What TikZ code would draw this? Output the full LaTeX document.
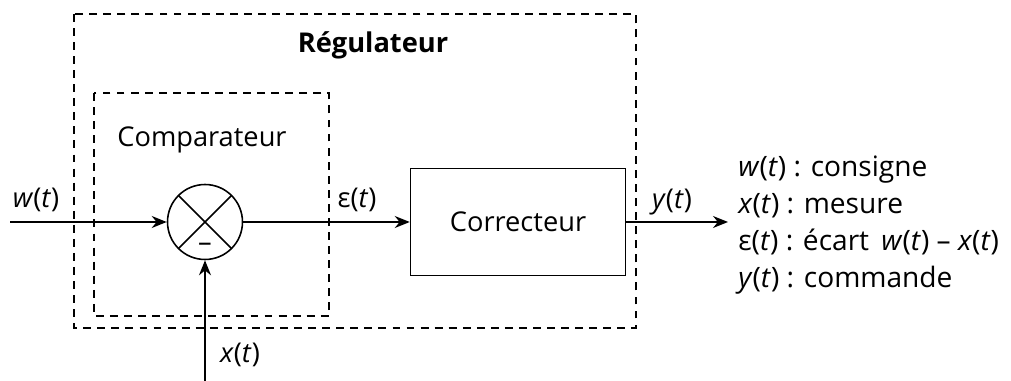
\documentclass[tikz,border=0pt]{standalone}
\usepackage{fontspec}
\setmainfont{Open Sans}
\usepackage{tikz}
\usetikzlibrary{arrows.meta,positioning}
% signal temporel : lettre et t en italique
\newcommand{\sig}[1]{\textit{#1}(\textit{t})}
\newcommand{\schemafont}{\fontsize{15.5}{21.3}\selectfont}
\tikzset{
  % --- Boucle de régulation -------------------------------------------------
  sumnode/.style={
    circle, draw, line width=0.9pt, minimum size=1.5cm, inner sep=0pt,
    path picture={
      \draw[line width=0.9pt]
        (path picture bounding box.north west) -- (path picture bounding box.south east)
        (path picture bounding box.south west) -- (path picture bounding box.north east);
    }
  },
  blockbox/.style={
    rectangle, draw, line width=0.9pt, minimum width=4.3cm, minimum height=2.14cm
  },
  dashzone/.style={draw, line width=0.9pt, dash pattern=on 4.5pt off 3.5pt},
  siglabel/.style={inner sep=1pt},
  sigarrow/.style={-{Stealth[length=3mm, width=2.4mm]}, line width=0.9pt},
  legline/.style={anchor=base west, inner sep=0pt, font=\fontsize{16}{21.3}\selectfont},
}

\begin{document}
\begin{tikzpicture}[x=0.02cm, y=-0.02cm, every node/.style={font=\schemafont}]
    \useasboundingbox (0,0) rectangle (1011,381);

    % zones en pointillés
    \draw[dashzone] (74,14) rectangle (636,328);
    \draw[dashzone] (94,93) rectangle (329,316);
    \node[font=\schemafont\bfseries] (regtitle) at (373,45) {Régulateur};
    \node (comptitle) at (202,140) {Comparateur};

    \node[sumnode] (sum) at (205,222) {};
    \node at (205,247) (minus) {–};
    \node[blockbox, right=3.33cm of sum] (corr) {Correcteur};

    \coordinate (win) at (10,222);
    \coordinate (yout) at (728,222);
    \coordinate (xin) at (205,381);

    \draw[sigarrow] (win) -- (sum);
    \draw[sigarrow] (sum) -- (corr);
    \draw[sigarrow] (corr) -- (yout);
    \draw[sigarrow] (xin) -- (sum);

    \node[siglabel] (wlab) at (36,200) {\sig{w}};
    \node[siglabel] (elab) at (357,200) {ε(\textit{t})};
    \node[siglabel] (ylab) at (672,202) {\sig{y}};
    \node[siglabel] (xlab) at (240,355) {\sig{x}};

    % légende
    \node[legline] (leg1) at (738,177) {\sig{w} : consigne};
    \node[legline, below=0.74cm of leg1.base west, anchor=base west] (leg2) {\sig{x} : mesure};
    \node[legline, below=0.74cm of leg2.base west, anchor=base west] (leg3) {ε(\textit{t}) : écart\hspace{7pt}\sig{w} – \sig{x}};
    \node[legline, below=0.74cm of leg3.base west, anchor=base west] (leg4) {\sig{y} : commande};
  \end{tikzpicture}
\end{document}
